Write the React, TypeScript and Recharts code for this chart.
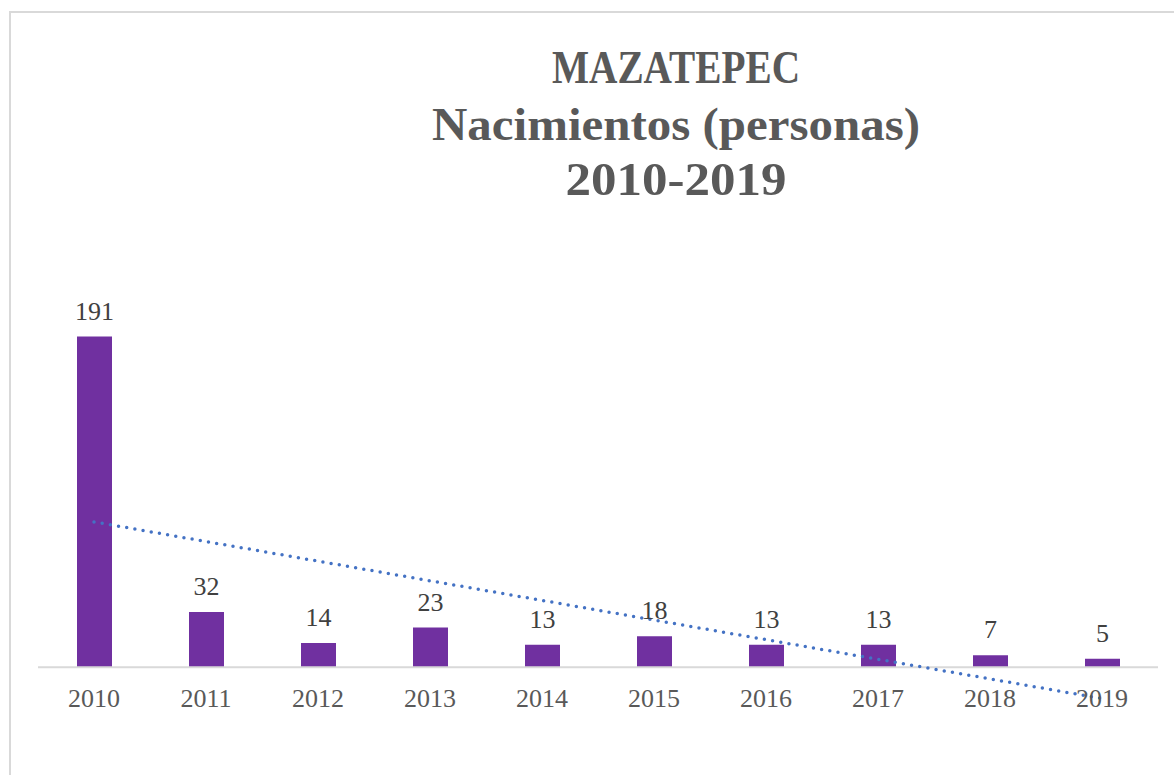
import React from 'react';
import { ComposedChart, Bar, Line, XAxis, YAxis, ReferenceLine, LabelList } from 'recharts';

const years: string[] = ['2010', '2011', '2012', '2013', '2014', '2015', '2016', '2017', '2018', '2019'];
const births: number[] = [191, 32, 14, 23, 13, 18, 13, 13, 7, 5];
// linear trendline end values
const trendStart = 84;
const trendEnd = -18;
const titleLines: string[] = ['MAZATEPEC', 'Nacimientos (personas)', '2010-2019'];

const data = years.map((year, i) => ({
  year,
  births: births[i],
  trend: i === 0 ? trendStart : i === years.length - 1 ? trendEnd : null,
}));

const FONT = '"Liberation Serif", "Times New Roman", serif';

const Tick = (props: any) => {
  const { x, y, payload } = props;
  return (
    <text x={x} y={y - 3.5} textAnchor="middle" fontSize={26} fill="#595959" fontFamily={FONT}>
      {payload.value}
    </text>
  );
};

export default function App() {
  const titleWidths = [248, 488, 221];
  const titleBaselines = [83, 140, 195];
  return (
    <div style={{ position: 'absolute', left: 0, top: 0, width: 1174, height: 775, overflow: 'hidden', background: '#fff' }}>
      <div
        style={{
          position: 'absolute',
          left: 9,
          top: 11,
          width: 1200,
          height: 800,
          border: '2px solid #d9d9d9',
          boxSizing: 'border-box',
        }}
      />
      <div style={{ position: 'absolute', left: 0, top: 0 }}>
        <ComposedChart
          width={1174}
          height={775}
          data={data}
          margin={{ top: 321, right: 16, bottom: 43, left: 38 }}
        >
          <XAxis
            dataKey="year"
            axisLine={false}
            tickLine={false}
            height={30}
            tick={<Tick />}
            interval={0}
          />
          <YAxis hide type="number" domain={[-20, 200]} allowDataOverflow />
          <ReferenceLine y={0} stroke="#d9d9d9" strokeWidth={2} ifOverflow="extendDomain" />
          <Bar dataKey="births" fill="#7030A0" barSize={35} isAnimationActive={false}>
            <LabelList
              dataKey="births"
              position="top"
              offset={17}
              fontSize={26}
              fill="#404040"
              fontFamily={FONT}
            />
          </Bar>
          <Line
            dataKey="trend"
            connectNulls
            stroke="#4472C4"
            strokeWidth={3.5}
            strokeDasharray="0 8.3"
            strokeLinecap="round"
            dot={false}
            activeDot={false}
            isAnimationActive={false}
          />
        </ComposedChart>
      </div>
      <svg width={1174} height={775} style={{ position: 'absolute', left: 0, top: 0, pointerEvents: 'none' }}>
        {titleLines.map((t, i) => (
          <text
            key={t}
            x={676}
            y={titleBaselines[i]}
            textAnchor="middle"
            fontSize={47}
            fontWeight="bold"
            fill="#595959"
            fontFamily={FONT}
            textLength={titleWidths[i]}
            lengthAdjust="spacingAndGlyphs"
          >
            {t}
          </text>
        ))}
      </svg>
    </div>
  );
}
